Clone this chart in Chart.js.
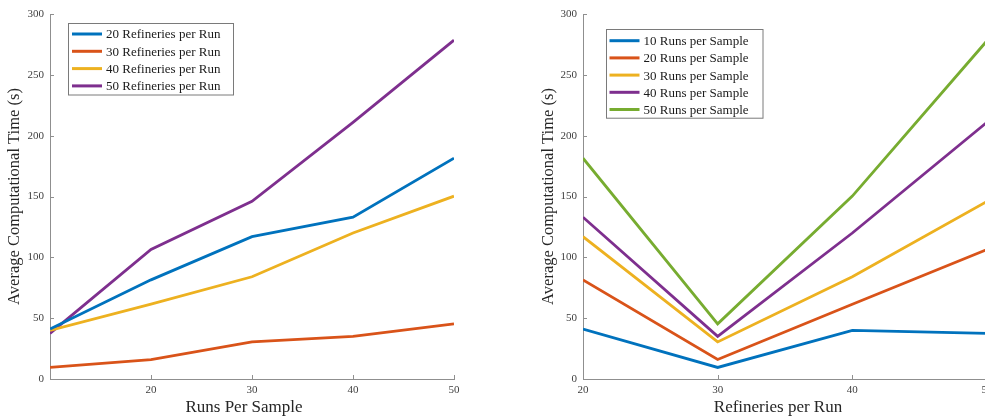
<!DOCTYPE html>
<html>
<head>
<meta charset="utf-8">
<title>Average Computational Time</title>
<script src="https://cdn.jsdelivr.net/npm/chart.js@4.4.1/dist/chart.umd.min.js"></script>
<style>
    html, body {
        margin: 0;
        padding: 0;
        width: 985px;
        height: 418px;
        overflow: hidden;
        background: #fff;
    }
    .panel {
        position: absolute;
        top: 0;
        height: 418px;
    }
    #left-panel { left: 0; width: 490px; }
    #right-panel { left: 495px; width: 510px; }
</style>
</head>
<body>
<div class="panel" id="left-panel"><canvas id="left-chart"></canvas></div>
<div class="panel" id="right-panel"><canvas id="right-chart"></canvas></div>
<script>
// ===== DATA =====
// Left panel: time vs runs per sample, one line per refinery count.
var runsPerSample = [10, 20, 30, 40, 50];
var ref20 = [41, 81.5, 117, 133, 181.5];
var ref30 = [9.5, 16, 30.5, 35, 45.3];
var ref40 = [40, 61.5, 84, 120, 150.3];
var ref50 = [37.5, 106.5, 146, 211, 278.5];

// Right panel: time vs refineries per run, one line per run count.
var refineriesPerRun = [20, 30, 40, 50];
var runs10 = [41, 9.5, 40, 37.5];
var runs20 = [81.5, 16, 61.5, 106.5];
var runs30 = [117, 30.5, 84, 146];
var runs40 = [133, 35, 120, 211];
var runs50 = [181.5, 45.3, 150.3, 278];

var leftXTicks = [20, 30, 40, 50];
var rightXTicks = [20, 30, 40, 50];
var yTicks = [0, 50, 100, 150, 200, 250, 300];

var BLUE = '#0072BD';
var RED = '#D95319';
var YELLOW = '#EDB120';
var PURPLE = '#7E2F8E';
var GREEN = '#77AC30';

var FONT = "'Liberation Serif', 'Times New Roman', serif";
var AXIS_GRAY = '#8f8f8f';
var TEXT_GRAY = '#404040';

var toPoints = function (xs, ys) {
    return xs.map(function (x, i) {
        return { x: x, y: ys[i] };
    });
};

var line = function (label, xs, ys, color) {
    return {
        label: label,
        data: toPoints(xs, ys),
        borderColor: color,
        backgroundColor: color,
        borderWidth: 2.8,
        pointRadius: 0,
        tension: 0,
        fill: false
    };
};

// ===== PLUGINS =====
// MATLAB-style inward tick marks on the two visible axes.
var inwardTicks = {
    id: 'inwardTicks',
    afterDraw: function (chart) {
        var ctx = chart.ctx;
        var area = chart.chartArea;
        var xs = chart.scales.x;
        var ys = chart.scales.y;
        ctx.save();
        ctx.strokeStyle = AXIS_GRAY;
        ctx.lineWidth = 1;
        ctx.beginPath();
        ys.ticks.forEach(function (t) {
            var py = Math.round(ys.getPixelForValue(t.value)) + 0.5;
            ctx.moveTo(area.left, py);
            ctx.lineTo(area.left + 4, py);
        });
        xs.ticks.forEach(function (t) {
            var px = Math.round(xs.getPixelForValue(t.value)) + 0.5;
            ctx.moveTo(px, area.bottom);
            ctx.lineTo(px, area.bottom - 4);
        });
        ctx.stroke();
        ctx.restore();
    }
};

// X axis title, drawn here so it can sit a little left of centre like the original.
var xTitle = {
    id: 'xTitle',
    afterDraw: function (chart, args, opts) {
        var ctx = chart.ctx;
        var area = chart.chartArea;
        ctx.save();
        ctx.font = '17px ' + FONT;
        ctx.fillStyle = '#262626';
        ctx.textAlign = 'center';
        ctx.textBaseline = 'middle';
        ctx.fillText(opts.text, (area.left + area.right) / 2 + opts.shift, opts.y);
        ctx.restore();
    }
};

// Boxed legend drawn inside the plot area.
var boxLegend = {
    id: 'boxLegend',
    afterDraw: function (chart, args, opts) {
        var ctx = chart.ctx;
        var sets = chart.data.datasets;
        ctx.save();
        ctx.fillStyle = '#fff';
        ctx.fillRect(opts.x, opts.y, opts.w, opts.h);
        ctx.strokeStyle = '#7a7a7a';
        ctx.lineWidth = 1;
        ctx.strokeRect(Math.round(opts.x) + 0.5, Math.round(opts.y) + 0.5, opts.w, opts.h);
        ctx.font = '13px ' + FONT;
        ctx.textBaseline = 'middle';
        ctx.fillStyle = '#1a1a1a';
        sets.forEach(function (ds, i) {
            var cy = opts.y + opts.first + i * opts.rowH;
            ctx.strokeStyle = ds.borderColor;
            ctx.lineWidth = 3;
            ctx.beginPath();
            ctx.moveTo(opts.x + 4, cy);
            ctx.lineTo(opts.x + 34, cy);
            ctx.stroke();
            ctx.fillText(ds.label, opts.x + 38, cy + 1);
        });
        ctx.restore();
    }
};

var makeOptions = function (xMin, xMax, xTicks, titleOpts, yWidth, padding, legend) {
    return {
        responsive: false,
        animation: false,
        layout: { padding: padding },
        plugins: {
            legend: { display: false },
            tooltip: { enabled: false },
            boxLegend: legend,
            xTitle: titleOpts
        },
        scales: {
            x: {
                type: 'linear',
                min: xMin,
                max: xMax,
                afterBuildTicks: function (scale) {
                    scale.ticks = xTicks.map(function (v) {
                        return { value: v };
                    });
                },
                afterFit: function (scale) {
                    scale.height = 39;
                },
                grid: { display: false, drawTicks: false },
                border: { display: true, color: AXIS_GRAY, width: 1 },
                ticks: {
                    padding: 5,
                    maxRotation: 0,
                    color: TEXT_GRAY,
                    font: { family: FONT, size: 11 }
                },
                title: { display: false }
            },
            y: {
                min: 0,
                max: 300,
                afterBuildTicks: function (scale) {
                    scale.ticks = yTicks.map(function (v) {
                        return { value: v };
                    });
                },
                afterFit: function (scale) {
                    scale.width = yWidth;
                },
                grid: { display: false, drawTicks: false },
                border: { display: true, color: AXIS_GRAY, width: 1 },
                ticks: {
                    padding: 6,
                    color: TEXT_GRAY,
                    font: { family: FONT, size: 11 }
                },
                title: {
                    display: true,
                    text: 'Average Computational Time (s)',
                    color: '#262626',
                    padding: { top: 5, bottom: 0 },
                    font: { family: FONT, size: 16.5 }
                }
            }
        }
    };
};

// ===== CHARTS =====
var leftCanvas = document.getElementById('left-chart');
leftCanvas.width = 490;
leftCanvas.height = 418;
new Chart(leftCanvas, {
    type: 'line',
    data: {
        datasets: [
            line('20 Refineries per Run', runsPerSample, ref20, BLUE),
            line('30 Refineries per Run', runsPerSample, ref30, RED),
            line('40 Refineries per Run', runsPerSample, ref40, YELLOW),
            line('50 Refineries per Run', runsPerSample, ref50, PURPLE)
        ]
    },
    options: makeOptions(10, 50, leftXTicks,
        { text: 'Runs Per Sample', shift: -8, y: 407.5 }, 50,
        { top: 14, right: 36, left: 0, bottom: 0 },
        { x: 68, y: 22.5, w: 165, h: 71.5, first: 11.5, rowH: 17.3 }),
    plugins: [inwardTicks, boxLegend, xTitle]
});

var rightCanvas = document.getElementById('right-chart');
rightCanvas.width = 510;
rightCanvas.height = 418;
new Chart(rightCanvas, {
    type: 'line',
    data: {
        datasets: [
            line('10 Runs per Sample', refineriesPerRun, runs10, BLUE),
            line('20 Runs per Sample', refineriesPerRun, runs20, RED),
            line('30 Runs per Sample', refineriesPerRun, runs30, YELLOW),
            line('40 Runs per Sample', refineriesPerRun, runs40, PURPLE),
            line('50 Runs per Sample', refineriesPerRun, runs50, GREEN)
        ]
    },
    options: makeOptions(20, 50, rightXTicks,
        { text: 'Refineries per Run', shift: -7, y: 407.5 }, 49,
        { top: 14, right: 18, left: 39, bottom: 0 },
        { x: 110.5, y: 29.3, w: 156.5, h: 88.7, first: 11.4, rowH: 17.2 }),
    plugins: [inwardTicks, boxLegend, xTitle]
});
</script>
</body>
</html>
